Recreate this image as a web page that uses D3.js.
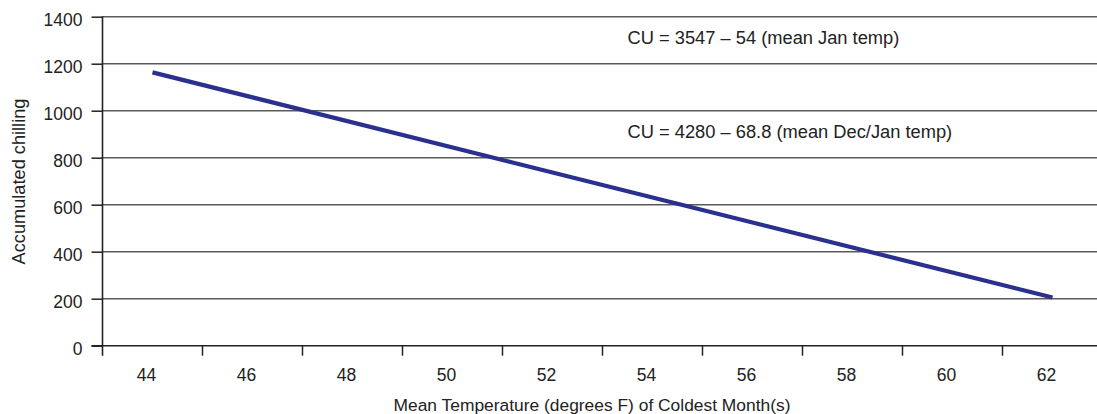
<!DOCTYPE html>
<html>
<head>
<meta charset="utf-8">
<script src="https://cdn.jsdelivr.net/npm/d3@7"></script>
<style>
  html, body { margin: 0; padding: 0; background: #fff; }
  svg { display: block; font-family: "Liberation Sans", Arial, sans-serif; }
</style>
</head>
<body>
<svg id="chart" width="1097" height="414"></svg>
<script>
// ---------- data ----------
const temps = [44, 46, 48, 50, 52, 54, 56, 58, 60, 62];
const yTicks = [0, 200, 400, 600, 800, 1000, 1200, 1400];
// fitted line, read at its two ends
const lineTemps = [44, 62];
const lineChill = [1163, 205];
const notes = ['CU = 3547 – 54 (mean Jan temp)', 'CU = 4280 – 68.8 (mean Dec/Jan temp)'];
const noteAt = [1310, 910]; // y value where each note sits

const svg = d3.select('#chart');
const W = 1097, H = 414;
const m = { t: 16.7, r: 0, b: 68.3, l: 102.5 };

const x = d3.scaleBand().domain(temps).range([m.l, m.l + 100 * temps.length]).paddingInner(0).paddingOuter(0);
const y = d3.scaleLinear().domain([0, 1400]).range([H - m.b, m.t]);

// gridlines
svg.append('g').selectAll('line').data(yTicks.filter(v => v > 0)).join('line')
  .attr('x1', m.l).attr('x2', W).attr('y1', d => y(d)).attr('y2', d => y(d))
  .attr('stroke', '#5a5a5a').attr('stroke-width', 1.6);

// y axis
const ya = svg.append('g').attr('transform', `translate(${m.l},0)`)
  .call(d3.axisLeft(y).tickValues(yTicks).tickFormat(d3.format('d')).tickSize(11).tickPadding(9));
ya.attr('font-family', null).attr('font-size', null);
ya.select('.domain').remove();
ya.selectAll('.tick line').attr('stroke', '#222').attr('stroke-width', 1.5);
ya.selectAll('.tick text').attr('font-size', 17.5).attr('fill', '#222').attr('dy', '0.52em');
svg.append('line').attr('x1', m.l).attr('x2', m.l).attr('y1', m.t - 0.5).attr('y2', y(0) + 10)
  .attr('stroke', '#222').attr('stroke-width', 1.6);

// x axis
svg.append('line').attr('x1', m.l - 11).attr('x2', W).attr('y1', y(0)).attr('y2', y(0))
  .attr('stroke', '#222').attr('stroke-width', 1.6);
svg.append('g').selectAll('line').data(temps.slice(1)).join('line')
  .attr('x1', d => x(d)).attr('x2', d => x(d)).attr('y1', y(0)).attr('y2', y(0) + 10)
  .attr('stroke', '#222').attr('stroke-width', 1.5);
svg.append('g').selectAll('text').data(temps).join('text')
  .attr('x', d => x(d) + x.bandwidth() / 2 - 6).attr('y', 381)
  .attr('text-anchor', 'middle').attr('font-size', 17.5).attr('fill', '#222').text(d => d);

// axis titles
svg.append('text').attr('x', 592).attr('y', 411).attr('text-anchor', 'middle')
  .attr('font-size', 17.4).attr('fill', '#222').text('Mean Temperature (degrees F) of Coldest Month(s)');
svg.append('text').attr('transform', `translate(24.5,181.5) rotate(-90)`).attr('text-anchor', 'middle')
  .attr('font-size', 18.2).attr('fill', '#222').text('Accumulated chilling');

// the fitted line
const pts = lineTemps.map((t, i) => [x(t) + x.bandwidth() / 2, y(lineChill[i])]);
svg.append('path').attr('d', d3.line()(pts)).attr('fill', 'none')
  .attr('stroke', '#2b2f8e').attr('stroke-width', 4.2);

// equations
svg.append('g').selectAll('text').data(notes).join('text')
  .attr('x', 627.5).attr('y', (d, i) => y(noteAt[i]) + 6.3)
  .attr('font-size', 18.3).attr('fill', '#222').text(d => d);
</script>
</body>
</html>
